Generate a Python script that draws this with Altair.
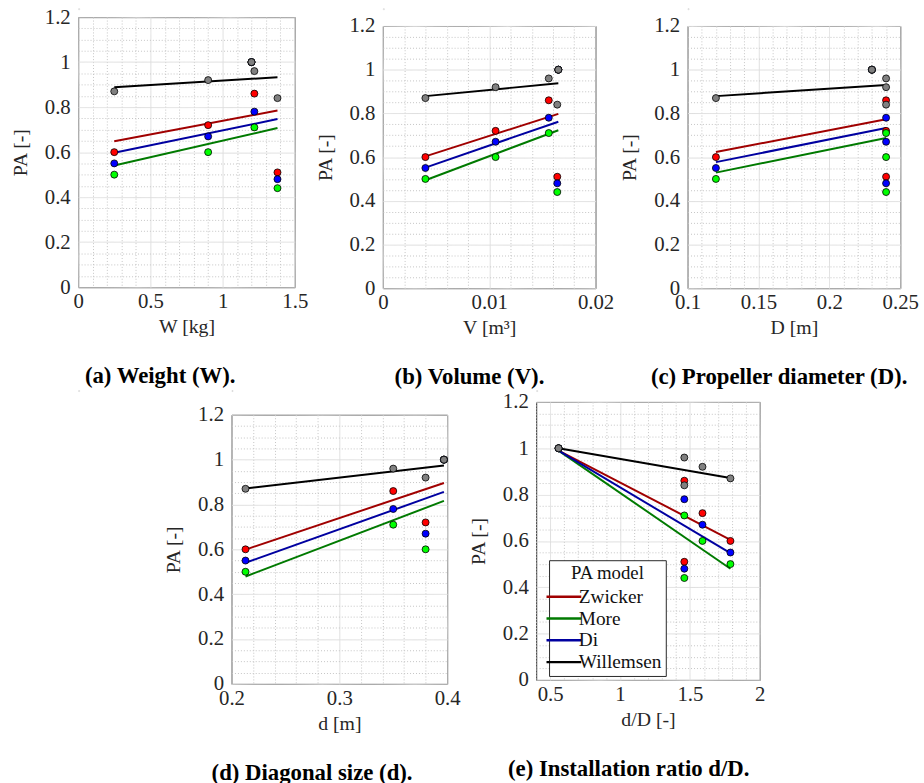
import altair as alt
import pandas as pd

FONT = "Liberation Serif"
INK = "#262626"

MODELS = ["Zwicker", "More", "Di", "Willemsen"]
LINE_COLORS = ["#a00000", "#007a00", "#0000a0", "#000000"]
POINT_COLORS = ["#ff0000", "#00ff00", "#0000ff", "#808080"]

# PA of the five drones, per model
PA = {
    "Zwicker":   [0.60, 0.72, 0.86, 0.51, 1.00],
    "More":      [0.50, 0.60, 0.71, 0.44, 1.00],
    "Di":        [0.55, 0.67, 0.78, 0.48, 1.00],
    "Willemsen": [0.87, 0.92, 0.96, 0.84, 1.00],
}

# drone properties
WEIGHT = [0.25, 0.90, 1.22, 1.38, 1.20]
VOLUME = [0.0040, 0.0106, 0.0156, 0.0164, 0.0165]
PROP_D = [0.12, 0.24, 0.24, 0.24, 0.23]
DIAG = [0.213, 0.38, 0.35, None, 0.397]
RATIO = [1.79, 1.59, 1.46, 1.46, 0.56]

# fitted lines (end points)
FIT_W_X = [0.25, 1.38]
FIT_W = {"Zwicker": [0.648, 0.785], "More": [0.541, 0.707], "Di": [0.597, 0.747], "Willemsen": [0.888, 0.933]}
FIT_V_X = [0.0040, 0.0165]
FIT_V = {"Zwicker": [0.603, 0.798], "More": [0.494, 0.723], "Di": [0.552, 0.762], "Willemsen": [0.879, 0.938]}
FIT_D_X = [0.12, 0.24]
FIT_D = {"Zwicker": [0.623, 0.773], "More": [0.529, 0.687], "Di": [0.577, 0.733], "Willemsen": [0.879, 0.930]}
FIT_DG_X = [0.213, 0.397]
FIT_DG = {"Zwicker": [0.599, 0.896], "More": [0.479, 0.816], "Di": [0.540, 0.856], "Willemsen": [0.871, 0.974]}
FIT_R_X = [0.56, 1.79]
FIT_R = {"Zwicker": [0.99, 0.605], "More": [0.99, 0.480], "Di": [0.99, 0.547], "Willemsen": [1.00, 0.872]}

# axes: (domain, major tick spacing, minor tick spacing)
Y_AXIS = ([0, 1.2], 0.2, 0.05)
X_W = ([0, 1.5], 0.5, 0.1)
X_V = ([0, 0.02], 0.01, 0.002)
X_D = ([0.1, 0.25], 0.05, 0.01)
X_DG = ([0.2, 0.4], 0.1, 0.02)
X_R = ([0.4, 2.0], 0.5, 0.1)


def make_axis(title, spec, orient):
    (lo, hi), major, minor = spec
    n = int(round((hi - lo) / minor))
    vals = [round(lo + i * minor, 6) for i in range(n + 1)]
    is_major = f"abs(datum.value/{major} - round(datum.value/{major})) < 1e-6"
    common = dict(
        title=title, values=vals, format="~g",
        labelExpr=f"({is_major}) ? datum.label : ''",
        grid=True,
        gridColor={"condition": {"test": is_major, "value": "#dedede"}, "value": "#c4c4c4"},
        gridDash={"condition": {"test": is_major, "value": [1, 0]}, "value": [1, 2]},
        gridWidth=1,
        ticks=False, domain=False,
        labelOverlap=False, labelFlush=False,
        labelFont=FONT, labelFontSize=21, labelColor=INK,
        titleFont=FONT, titleFontSize=20, titleColor=INK, titleFontWeight="normal",
    )
    if orient == "x":
        common.update(labelPadding=4, titlePadding=5)
    else:
        common.update(labelPadding=8, titlePadding=14)
    return alt.Axis(**common)


def panel(xs, xspec, xtitle, fit_x, fit, caption, w, h, dx, legend=None):
    prow = []
    for m in MODELS:
        for xv, pv in zip(xs, PA[m]):
            prow.append({"x": xv, "PA": pv, "model": m})
    pts = pd.DataFrame(prow)
    lrow = []
    for m in MODELS:
        for xv, yv in zip(fit_x, fit[m]):
            lrow.append({"x": xv, "PA": yv, "model": m})
    lns = pd.DataFrame(lrow)

    xscale = alt.Scale(domain=xspec[0], nice=False, zero=False)
    yscale = alt.Scale(domain=Y_AXIS[0], nice=False)
    xenc = alt.X("x:Q", scale=xscale, axis=make_axis(xtitle, xspec, "x"))
    yenc = alt.Y("PA:Q", scale=yscale, axis=make_axis("PA [-]", Y_AXIS, "y"))

    lines = alt.Chart(lns).mark_line(strokeWidth=2, clip=True).encode(
        x=xenc, y=yenc,
        color=alt.Color("model:N", scale=alt.Scale(domain=MODELS, range=LINE_COLORS),
                        legend=legend),
    )
    points = alt.Chart(pts).mark_point(
        shape="circle", filled=True, size=50, stroke="black", strokeWidth=0.8, opacity=1
    ).encode(
        x=xenc, y=yenc,
        fill=alt.Fill("model:N", scale=alt.Scale(domain=MODELS, range=POINT_COLORS), legend=None),
    )
    return alt.layer(lines, points).properties(
        width=w, height=h,
        view=alt.ViewBackground(stroke=INK, strokeWidth=1, fill="white"),
        title=alt.TitleParams(
            text=caption, orient="bottom", anchor="middle", frame="bounds", dx=dx,
            font=FONT, fontSize=23, fontWeight="bold", color="black", offset=29,
        ),
    )


def spacer():
    return alt.Chart(pd.DataFrame({"s": [0]})).mark_point(
        opacity=0, size=0, strokeWidth=0
    ).encode(x=alt.value(0), y=alt.value(0)).properties(width=1, height=1)


legend_e = alt.Legend(
    title="PA model", orient="none", legendX=13, legendY=160,
    strokeColor=INK, fillColor="white", padding=4, cornerRadius=0,
    symbolType="M-1.85,0H1.85", symbolSize=361, symbolStrokeWidth=2.5,
    labelFont=FONT, labelFontSize=19.5, labelColor="#111111", labelOffset=4,
    titleFont=FONT, titleFontSize=19, titleFontWeight="normal", titleColor="#111111",
    titleAnchor="middle", titlePadding=3, rowPadding=1,
)

pa = panel(WEIGHT, X_W, "W [kg]", FIT_W_X, FIT_W, "(a) Weight (W).", 219, 273, 1)
pb = panel(VOLUME, X_V, "V [m³]", FIT_V_X, FIT_V, "(b) Volume (V).", 215, 265, 5)
pc = panel(PROP_D, X_D, "D [m]", FIT_D_X, FIT_D, "(c) Propeller diameter (D).", 215, 265, 10)
pd_ = panel(DIAG, X_DG, "d [m]", FIT_DG_X, FIT_DG, "(d) Diagonal size (d).", 218, 272, 0)
pe = panel(RATIO, X_R, "d/D [-]", FIT_R_X, FIT_R, "(e) Installation ratio d/D.", 226, 281, 12,
           legend=legend_e)

IND = dict(color="independent", fill="independent")

col_a = alt.vconcat(spacer(), pa, spacing=-5).resolve_scale(**IND)
col_b = alt.vconcat(spacer(), pb, spacing=4).resolve_scale(**IND)
col_c = alt.vconcat(spacer(), pc, spacing=4).resolve_scale(**IND)
row1 = alt.hconcat(
    alt.hconcat(col_a, col_b, spacing=6).resolve_scale(**IND),
    col_c, spacing=5,
).resolve_scale(**IND)

col_d = alt.vconcat(spacer(), pd_, spacing=11).resolve_scale(**IND)
col_e = alt.vconcat(spacer(), pe, spacing=-2).resolve_scale(**IND)
row2 = alt.hconcat(
    spacer(),
    alt.hconcat(col_d, col_e, spacing=7).resolve_scale(**IND),
    spacing=84,
).resolve_scale(**IND)

chart = alt.vconcat(row1, row2, spacing=-6).resolve_scale(**IND).properties(
    padding={"left": 10, "top": 1, "right": 5, "bottom": 2}
).configure_view(stroke="transparent", strokeWidth=0).configure(background="white")

chart.save("out.html", embed_options={"renderer": "svg", "actions": False})
